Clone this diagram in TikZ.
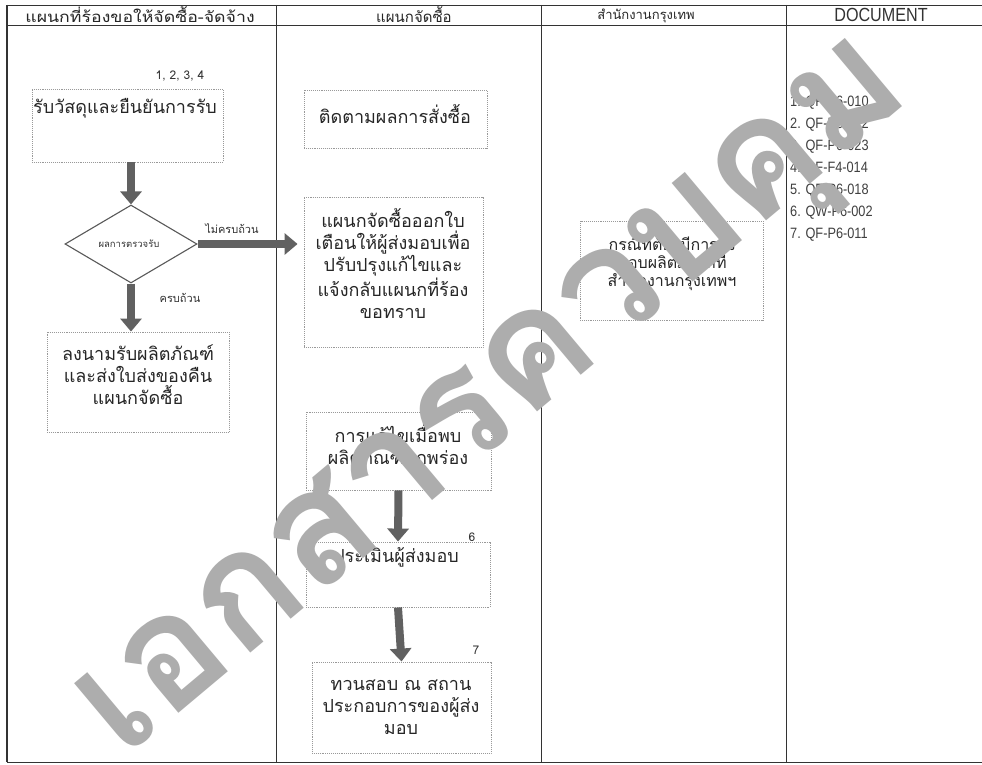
\documentclass[tikz,border=0pt]{standalone}
\usepackage{fontspec}
\usetikzlibrary{arrows.meta,shapes.geometric}
\newfontfamily\thfont[Script=Thai]{Loma}
\newfontfamily\thwide[Script=Thai,FakeStretch=1.18]{Loma}
\newfontfamily\docfont[FakeStretch=0.85]{Liberation Sans}
\begin{document}
\begin{tikzpicture}[x=1pt,y=-1pt,
  tbl/.style={draw=black!80,line width=0.9pt},
  procbox/.style={draw=black!40,line width=0.9pt,densely dotted,rectangle,inner sep=0pt},
  thtext/.style={font=\thfont\fontsize{18}{22}\selectfont,align=center,inner sep=0pt,text=black!85},
  smalltext/.style={font=\thfont\fontsize{12}{15}\selectfont,inner sep=0pt,text=black!80},
  fatarr/.style={draw=black!62,line width=8pt,-{Triangle[length=13pt 0,width=21pt 0]}},
  watermark/.style={font=\thfont\bfseries\fontsize{160}{160}\selectfont,text=black!32,inner sep=0pt,rotate=40}
]
\useasboundingbox (0,0) rectangle (982,765);
\fill[white] (0,0) rectangle (982,765);

% table frame and lanes
\coordinate (tl) at (7,5);
\coordinate (tr) at (982,5);
\coordinate (hl) at (7,25);
\coordinate (hr) at (982,25);
\coordinate (bl) at (7,762);
\coordinate (br) at (982,762);
\draw[tbl] (tl) -- (tr);
\draw[tbl] (hl) -- (hr);
\draw[tbl] (bl) -- (br);
\draw[tbl,line width=1.3pt] (tl) -- (bl);
\foreach \lx/\nm in {276/la,541/lb,786/lc}{
  \coordinate (\nm t) at (\lx,5);
  \coordinate (\nm b) at (\lx,762);
  \draw[tbl] (\nm t) -- (\nm b);
}

% lane headings
\node[thtext,font=\thwide\fontsize{15}{22}\selectfont] (h1) at (140,15) {แผนกที่ร้องขอให้จัดซื้อ-จัดจ้าง};
\node[thtext,font=\thfont\fontsize{15}{22}\selectfont] (h2) at (414,15) {แผนกจัดซื้อ};
\node[thtext,font=\thfont\fontsize{13}{22}\selectfont] (h3) at (646,16) {สำนักงานกรุงเทพ};
\node[font=\docfont\fontsize{19}{20}\selectfont,text=black!80,inner sep=0pt] (h4) at (881,15) {DOCUMENT};

% requesting department lane
\node[smalltext] (n1) at (180,76) {1, 2, 3, 4};
\node[procbox,minimum width=191pt,minimum height=73pt] (b1) at (127.5,125.5) {};
\node[thtext] (b1t) at (125,108) {รับวัสดุและยืนยันการรับ};
\node[diamond,draw=black!65,line width=1.1pt,minimum width=132pt,minimum height=78pt,inner sep=0pt] (dia) at (131,244) {};
\node[smalltext,font=\thfont\fontsize{9.5}{12}\selectfont] (diat) at (129,244) {ผลการตรวจรับ};
\node[smalltext,font=\thfont\fontsize{11}{12}\selectfont] (no) at (232,229) {ไม่ครบถ้วน};
\node[smalltext,font=\thfont\fontsize{11}{12}\selectfont] (yes) at (180,298) {ครบถ้วน};
\node[procbox,minimum width=182pt,minimum height=100pt] (b3) at (138,382) {};
\node[thtext] (b3t) at (138,375) {ลงนามรับผลิตภัณฑ์\\และส่งใบส่งของคืน\\แผนกจัดซื้อ};

% purchasing lane
\node[procbox,minimum width=183pt,minimum height=58pt] (b4) at (395.5,119) {};
\node[thtext] (b4t) at (395,114) {ติดตามผลการสั่งซื้อ};
\node[procbox,minimum width=179pt,minimum height=150pt] (b5) at (393.5,272) {};
\node[thtext] (b5t) at (393,263.5) {แผนกจัดซื้อออกใบ\\เตือนให้ผู้ส่งมอบเพื่อ\\ปรับปรุงแก้ไขและ\\แจ้งกลับแผนกที่ร้อง\\ขอทราบ};
\node[smalltext] (n5) at (472,404) {5};
\node[procbox,minimum width=185pt,minimum height=78pt] (b6) at (398.5,451) {};
\node[thtext] (b6t) at (398,444.5) {การแก้ไขเมื่อพบ\\ผลิตภัณฑ์บกพร่อง};
\node[smalltext] (n6) at (472,537) {6};
\node[procbox,minimum width=184pt,minimum height=65pt] (b7) at (398,574.5) {};
\node[thtext] (b7t) at (396,557) {ประเมินผู้ส่งมอบ};
\node[smalltext] (n7) at (476,650) {7};
\node[procbox,minimum width=179pt,minimum height=91pt] (b8) at (401.5,707.5) {};
\node[thtext] (b8t) at (401,707) {ทวนสอบ ณ สถาน\\ประกอบการของผู้ส่ง\\มอบ};

% Bangkok office lane
\node[procbox,minimum width=183pt,minimum height=99pt] (b9) at (671.5,270.5) {};
\node[thtext,font=\thfont\fontsize{16}{18}\selectfont] (b9t) at (672,262) {กรณีที่ต้องมีการส่ง\\มอบผลิตภัณฑ์ที่\\สำนักงานกรุงเทพฯ};

% document list
\node[font=\docfont\fontsize{15}{22}\selectfont,text=black!75,align=left,anchor=north west,inner sep=0pt] (docs) at (790,96)
  {1. QF-P6-010\\2. QF-P6-022\\3. QF-P6-023\\4. QF-F4-014\\5. QF-P6-018\\6. QW-P6-002\\7. QF-P6-011};

% flow arrows
\draw[fatarr] (dia.north |- b1.south) -- (dia.north);
\draw[fatarr,shorten >=6pt] (dia.east) -- (b5.west |- dia.east);
\draw[fatarr] (dia.south) -- (dia.south |- b3.north);
\draw[fatarr] (b6.south) -- (b7.north);
\draw[fatarr] (b7.south) -- (b8.north);

% controlled-copy stamp across the sheet
\node[watermark] (mark) at (502,408) {เอกสารควบคุม};
\end{tikzpicture}
\end{document}
